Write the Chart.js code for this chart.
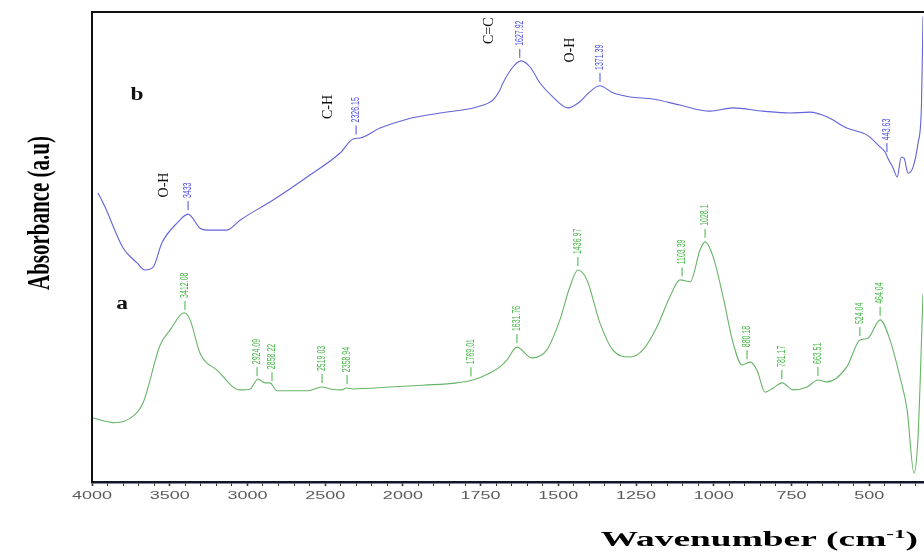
<!DOCTYPE html>
<html>
<head>
<meta charset="utf-8">
<title>FTIR</title>
<script src="https://cdn.jsdelivr.net/npm/chart.js@4.4.0/dist/chart.umd.min.js"></script>
<style>
  html, body { margin: 0; padding: 0; background: #fff; }
  #chartFtir { display: block; }
</style>
</head>
<body>
<canvas id="chartFtir" width="924" height="552"></canvas>
<script>
// ======= DADOS =======
// curva b (azul)
const wavenumbersB = [3961, 3916, 3800, 3710, 3659, 3607, 3550, 3453, 3382, 3305, 3260, 3131, 3048,
  2835, 2616, 2404, 2320, 2275, 2147, 1987, 1881, 1762, 1710, 1688, 1678, 1646, 1620, 1591, 1559,
  1517, 1469, 1431, 1399, 1367, 1324, 1269, 1196, 1109, 1012, 938, 842, 755, 691, 636, 572, 507,
  465, 449, 440, 423, 410, 397, 388, 375, 359, 343, 332, 327];
const absorbanceB = [0.615, 0.585, 0.498, 0.466, 0.451, 0.457, 0.509, 0.551, 0.570, 0.540, 0.536, 0.536, 0.557,
  0.600, 0.649, 0.700, 0.730, 0.732, 0.753, 0.772, 0.785, 0.798, 0.813, 0.834, 0.849, 0.883, 0.896, 0.883, 0.849,
  0.819, 0.796, 0.809, 0.830, 0.843, 0.828, 0.819, 0.815, 0.802, 0.789, 0.796, 0.789, 0.785, 0.787, 0.777, 0.753, 0.738,
  0.713, 0.702, 0.689, 0.668, 0.649, 0.691, 0.689, 0.657, 0.670, 0.721, 0.800, 0.990];

// curva a (verde)
const wavenumbersA = [3994, 3852, 3736, 3672, 3562, 3498, 3408, 3369, 3305, 3196, 3048, 2983, 2932,
  2887, 2855, 2810, 2616, 2520, 2468, 2391, 2366, 2320, 2082, 1936, 1826, 1775, 1720, 1688, 1665,
  1633, 1585, 1537, 1495, 1463, 1437, 1408, 1366, 1325, 1270, 1228, 1183, 1141, 1109, 1076, 1044,
  1028, 1002, 970, 938, 909, 883, 861, 835, 809, 780, 745, 700, 665, 636, 572, 530, 504, 465, 433,
  401, 378, 356, 343, 327];
const absorbanceA = [0.136, 0.126, 0.140, 0.168, 0.291, 0.323, 0.360, 0.345, 0.274, 0.238, 0.196, 0.198, 0.219,
  0.211, 0.211, 0.194, 0.194, 0.202, 0.198, 0.196, 0.200, 0.198, 0.202, 0.206, 0.211, 0.217, 0.232, 0.245, 0.260,
  0.287, 0.264, 0.281, 0.345, 0.415, 0.451, 0.430, 0.338, 0.281, 0.266, 0.281, 0.330, 0.394, 0.430, 0.426, 0.494,
  0.511, 0.479, 0.394, 0.296, 0.249, 0.255, 0.238, 0.191, 0.200, 0.211, 0.196, 0.202, 0.217, 0.213, 0.245, 0.302, 0.306, 0.345, 0.302,
  0.223, 0.153, 0.019, 0.096, 0.400];

// picos marcados
const peakPosB = [3382, 2301, 1624, 1366, 443];
const peakTextB = ["3433", "2326.15", "1627.92", "1371.39", "443.63"];
const peakPosA = [3402, 2938, 2842, 2520, 2359, 1781, 1633, 1437, 1102, 1028, 893, 781, 665, 530, 465];
const peakTextA = ["3412.08", "2924.09", "2858.22", "2519.03", "2358.94", "1769.01", "1631.76", "1436.97",
  "1103.39", "1028.1", "880.18", "781.17", "663.51", "524.04", "464.04"];

// ligações
const bondText = ["O-H", "C-H", "C=C", "O-H"];
const bondPosW = [3537, 2481, 1723, 1463];
const bondPosY = [0.632, 0.798, 0.960, 0.919];

// nomes das curvas
const curveNames = ["b", "a"];
const curveNamePosW = [3710, 3807];
const curveNamePosY = [0.823, 0.377];

const xTickLabels = [4000, 3500, 3000, 2500, 2000, 1750, 1500, 1250, 1000, 750, 500];
const xMinW = 4000;
const xMaxW = 327;

// ======= ESCALA QUEBRADA EM 2000 =======
function wToU(w) {
  return w >= 2000 ? (4000 - w) / 500 : 4 + (2000 - w) / 250;
}

function curveAt(ws, ys, w) {
  for (let i = 0; i < ws.length - 1; i++) {
    if (w <= ws[i] && w >= ws[i + 1]) {
      const t = (ws[i] - w) / (ws[i] - ws[i + 1]);
      return ys[i] + t * (ys[i + 1] - ys[i]);
    }
  }
  return ys[ys.length - 1];
}

const blue = "#6262da";
const blueText = "#4a4ae0";
const green = "#66b566";
const greenText = "#3fb53f";
const serif = '"Liberation Serif", "DejaVu Serif", serif';
const sans = '"Liberation Sans", Arial, sans-serif';

// ======= TEXTOS SOBRE O GRÁFICO =======
const anotacoes = {
  id: "anotacoes",
  afterDraw(chart) {
    const ctx = chart.ctx;
    const xs = chart.scales.x;
    const ys = chart.scales.y;
    const area = chart.chartArea;
    const px = (w) => xs.getPixelForValue(wToU(w));

    ctx.save();

    // linha do topo
    ctx.strokeStyle = "#111";
    ctx.lineWidth = 2;
    ctx.beginPath();
    ctx.moveTo(area.left - 1, area.top);
    ctx.lineTo(area.right + 1, area.top);
    ctx.stroke();

    // rótulos do eixo x
    ctx.fillStyle = "#5a5a5a";
    ctx.font = "10px " + sans;
    ctx.textAlign = "center";
    ctx.textBaseline = "middle";
    xTickLabels.forEach((w) => {
      ctx.save();
      ctx.translate(px(w), area.bottom + 14);
      ctx.scale(1.8, 1);
      ctx.fillText(String(w), 0, 0);
      ctx.restore();
    });

    // título x
    const stretch = 1.78;
    ctx.fillStyle = "#000";
    ctx.textAlign = "left";
    ctx.textBaseline = "alphabetic";
    ctx.font = "bold 21px " + serif;
    const main = "Wavenumber (cm";
    const wMain = ctx.measureText(main).width;
    const wClose = ctx.measureText(")").width;
    ctx.font = "bold 13px " + serif;
    const wSup = ctx.measureText("-1").width;
    const total = (wMain + wSup + wClose) * stretch;
    ctx.save();
    ctx.translate(area.right - 5 - total, chart.height - 6);
    ctx.scale(stretch, 1);
    ctx.font = "bold 21px " + serif;
    ctx.fillText(main, 0, 0);
    ctx.font = "bold 13px " + serif;
    ctx.fillText("-1", wMain, -8);
    ctx.font = "bold 21px " + serif;
    ctx.fillText(")", wMain + wSup, 0);
    ctx.restore();

    // título y
    ctx.save();
    ctx.translate(41, 213);
    ctx.rotate(-Math.PI / 2);
    ctx.scale(1, 1.5);
    ctx.font = "bold 21px " + serif;
    ctx.textAlign = "center";
    ctx.textBaseline = "middle";
    ctx.fillText("Absorbance (a.u)", 0, 0);
    ctx.restore();

    // picos
    function marcarPicos(posList, textList, ws, ysData, textColor) {
      posList.forEach((w, i) => {
        const x = px(w);
        const y = ys.getPixelForValue(curveAt(ws, ysData, w));
        ctx.strokeStyle = textColor;
        ctx.lineWidth = 1;
        ctx.beginPath();
        ctx.moveTo(x, y - 4);
        ctx.lineTo(x, y - 13);
        ctx.stroke();
        ctx.save();
        ctx.translate(x, y - 16);
        ctx.rotate(-Math.PI / 2);
        ctx.scale(1, 1.5);
        ctx.fillStyle = textColor;
        ctx.font = "7px " + sans;
        ctx.textAlign = "left";
        ctx.textBaseline = "middle";
        ctx.fillText(textList[i], 0, 0);
        ctx.restore();
      });
    }
    marcarPicos(peakPosB, peakTextB, wavenumbersB, absorbanceB, blueText);
    marcarPicos(peakPosA, peakTextA, wavenumbersA, absorbanceA, greenText);

    // ligações
    ctx.fillStyle = "#111";
    bondText.forEach((t, i) => {
      ctx.save();
      ctx.translate(px(bondPosW[i]), ys.getPixelForValue(bondPosY[i]));
      ctx.rotate(-Math.PI / 2);
      ctx.font = "14px " + serif;
      ctx.textAlign = "center";
      ctx.textBaseline = "middle";
      ctx.fillText(t, 0, 0);
      ctx.restore();
    });

    // a / b
    curveNames.forEach((t, i) => {
      ctx.save();
      ctx.translate(px(curveNamePosW[i]), ys.getPixelForValue(curveNamePosY[i]));
      ctx.scale(1.3, 1);
      ctx.font = "bold 18px " + serif;
      ctx.textAlign = "center";
      ctx.textBaseline = "middle";
      ctx.fillText(t, 0, 0);
      ctx.restore();
    });

    ctx.restore();
  },
};

// ======= GRÁFICO =======
const minorTicks = [];
for (let i = 0; i * 0.2 <= wToU(xMaxW); i++) minorTicks.push(+(i * 0.2).toFixed(2));

const ctxFtir = document.getElementById("chartFtir").getContext("2d");
new Chart(ctxFtir, {
  type: "line",
  data: {
    datasets: [
      {
        label: "b",
        data: wavenumbersB.map((w, i) => ({ x: wToU(w), y: absorbanceB[i] })),
        borderColor: blue,
        borderWidth: 1.1,
        pointRadius: 0,
        cubicInterpolationMode: "monotone",
      },
      {
        label: "a",
        data: wavenumbersA.map((w, i) => ({ x: wToU(w), y: absorbanceA[i] })),
        borderColor: green,
        borderWidth: 1.1,
        pointRadius: 0,
        cubicInterpolationMode: "monotone",
      },
    ],
  },
  options: {
    responsive: false,
    animation: false,
    layout: { padding: { top: 12, right: 1, left: 0, bottom: 0 } },
    plugins: { legend: { display: false }, tooltip: { enabled: false } },
    scales: {
      x: {
        type: "linear",
        min: wToU(xMinW),
        max: wToU(xMaxW),
        afterBuildTicks: (scale) => {
          scale.ticks = minorTicks.map((v) => ({ value: v }));
        },
        afterFit: (scale) => {
          scale.height = 70;
        },
        ticks: { display: false },
        grid: {
          drawOnChartArea: false,
          tickLength: 4,
          tickColor: "#333",
          tickWidth: (c) => (c.tick && Math.abs(c.tick.value - Math.round(c.tick.value)) < 1e-6 ? 1.6 : 1),
        },
        border: { display: true, color: "#14142a", width: 2.5 },
      },
      y: {
        min: 0,
        max: 1,
        afterFit: (scale) => {
          scale.width = 92;
        },
        ticks: { display: false },
        grid: { display: false },
        border: { display: true, color: "#111", width: 2 },
      },
    },
  },
  plugins: [anotacoes],
});
</script>
</body>
</html>
